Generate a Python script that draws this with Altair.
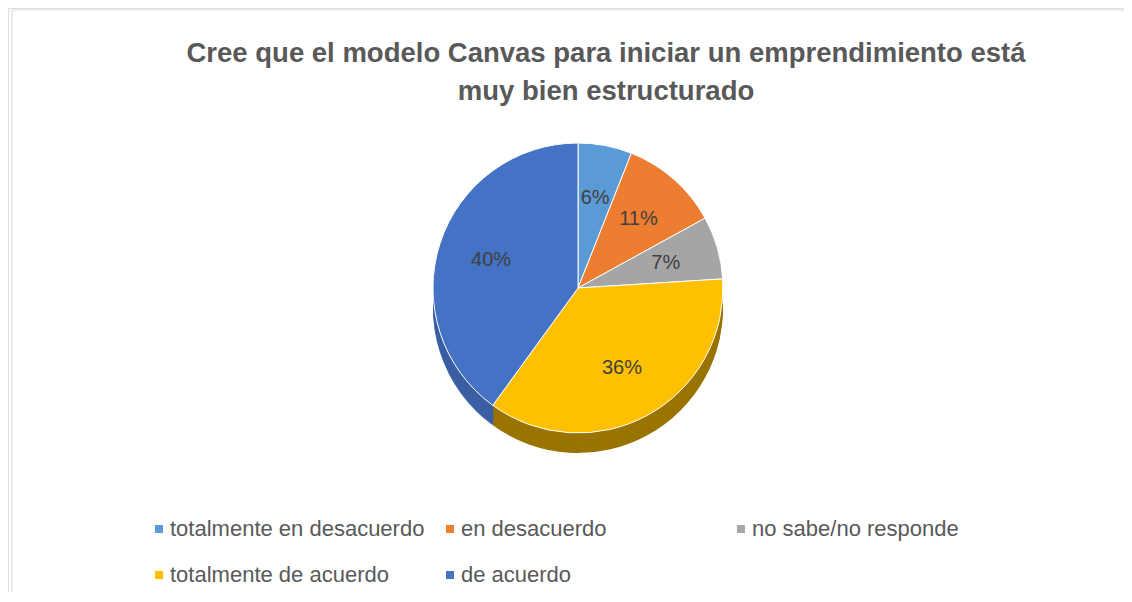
import altair as alt
import pandas as pd

# ---- data ----
categories = ["totalmente en desacuerdo", "en desacuerdo", "no sabe/no responde",
              "totalmente de acuerdo", "de acuerdo"]
values = [6, 11, 7, 36, 40]
labels = ["6%", "11%", "7%", "36%", "40%"]

# ---- styles ----
colors = ["#5B9BD5", "#ED7D31", "#A5A5A5", "#FFC000", "#4472C4"]
side_colors = ["#3E7BB3", "#B05A20", "#7A7A7A", "#9A7400", "#3A5FA3"]
FONT = "Liberation Sans"
TEXT_GRAY = "#595959"

df = pd.DataFrame({"cat": categories, "val": values, "label": labels,
                   "idx": list(range(len(categories)))})

W, H = 1116, 584
CX, CY, R = 570, 280, 145
DEPTH = 20

base = alt.Chart(df).encode(
    theta=alt.Theta("val:Q", stack=True),
    order=alt.Order("idx:Q"),
)

side_layers = []
for off in range(DEPTH, 0, -2):
    side_layers.append(
        base.mark_arc(radius=R).encode(
            x=alt.value(CX), y=alt.value(CY + off),
            color=alt.Color("cat:N", scale=alt.Scale(domain=categories, range=side_colors),
                            legend=None),
        )
    )

top = base.mark_arc(radius=R, stroke="white", strokeWidth=1).encode(
    x=alt.value(CX), y=alt.value(CY),
    color=alt.Color(
        "cat:N",
        scale=alt.Scale(domain=categories, range=colors),
        legend=alt.Legend(
            title=None, orient="none", legendX=140, legendY=510, columns=3,
            direction="horizontal", gridAlign="all", columnPadding=14, rowPadding=24,
            symbolType="square", symbolSize=64, symbolStrokeWidth=0,
            labelFontSize=22, labelFont=FONT, labelColor=TEXT_GRAY, labelLimit=400,
            labelOffset=0, padding=0,
        ),
    ),
)

text = base.mark_text(radius=R * 0.63, fontSize=20, font=FONT, color="#404040").encode(
    x=alt.value(CX), y=alt.value(CY), text="label:N"
)

frame_df = pd.DataFrame({"k": [0]})
left_rule = alt.Chart(frame_df).mark_rule(color="#D9D9D9", strokeWidth=1).encode(
    x=alt.value(4), y=alt.value(2), y2=alt.value(H)
)
top_rule = alt.Chart(frame_df).mark_rule(color="#D9D9D9", strokeWidth=1).encode(
    x=alt.value(4), x2=alt.value(W), y=alt.value(2)
)

chart = alt.layer(*side_layers, top, text, left_rule, top_rule).resolve_scale(
    color="independent"
).properties(
    width=W, height=H, padding=0,
    autosize=alt.AutoSizeParams(type="none"),
    title=alt.TitleParams(
        text=["Cree que el modelo Canvas para iniciar un emprendimiento está",
              "muy bien estructurado"],
        fontSize=27.5, font=FONT, fontWeight="bold", color=TEXT_GRAY,
        anchor="middle", dx=40, dy=101, lineHeight=38,
    ),
).configure_view(stroke=None).configure(background="white")

chart.save("out.html", embed_options={"renderer": "svg", "actions": False})
